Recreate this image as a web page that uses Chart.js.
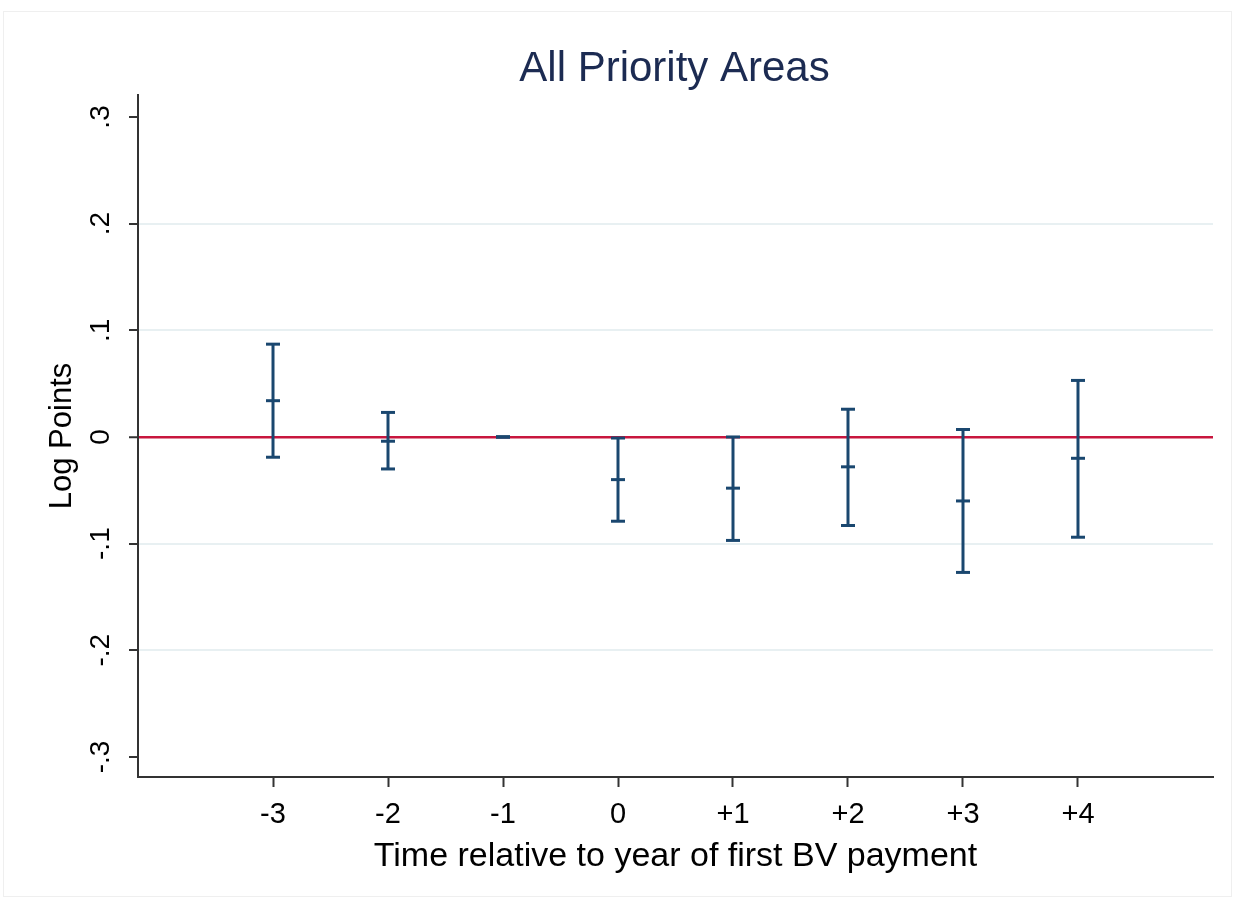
<!DOCTYPE html>
<html>
<head>
<meta charset="utf-8">
<title>All Priority Areas</title>
<script src="https://cdn.jsdelivr.net/npm/chart.js@4.4.1/dist/chart.umd.min.js"></script>
<style>
  html, body { margin: 0; padding: 0; background: #ffffff; }
  canvas { display: block; }
</style>
</head>
<body>
<canvas id="chart" width="1235" height="905"></canvas>
<script>
// Event-study coefficients (log points) with 95% confidence bounds
const periods      = [-3, -2, -1, 0, 1, 2, 3, 4];
const periodLabels = ['-3', '-2', '-1', '0', '+1', '+2', '+3', '+4'];
const estimates    = [0.034, -0.004, 0, -0.040, -0.048, -0.028, -0.060, -0.020];
const ciLower      = [-0.019, -0.030, 0, -0.079, -0.097, -0.083, -0.127, -0.094];
const ciUpper      = [0.087, 0.023, 0, -0.001, 0.000, 0.026, 0.007, 0.053];
const yTicks       = [-0.3, -0.2, -0.1, 0, 0.1, 0.2, 0.3];
const yTickLabels  = ['-.3', '-.2', '-.1', '0', '.1', '.2', '.3'];

const NAVY = '#1a476f';
const FONT = '"Liberation Sans", Arial, Helvetica, sans-serif';

// One vertical segment per period, with caps drawn as line-style points
const ciSets = periods.map((p, i) => ({
  type: 'line',
  data: [{ x: p, y: ciLower[i] }, { x: p, y: ciUpper[i] }],
  borderColor: NAVY,
  borderWidth: 3,
  pointStyle: 'line',
  pointRadius: 7,
  pointBorderWidth: 3,
  pointBorderColor: NAVY,
  pointHoverRadius: 7,
  fill: false,
  order: 1
}));

const pointSet = {
  type: 'scatter',
  data: periods.map((p, i) => ({ x: p, y: estimates[i] })),
  pointStyle: 'line',
  pointRadius: 7,
  pointBorderWidth: 3,
  borderColor: NAVY,
  pointBorderColor: NAVY,
  order: 0
};

// Text labels drawn around the plot region
const textPlugin = {
  id: 'textPlugin',
  beforeDraw(chart) {
    const ctx = chart.ctx;
    ctx.save();
    ctx.strokeStyle = '#efefef';
    ctx.lineWidth = 1;
    ctx.strokeRect(3.5, 11.5, 1228, 885);
    ctx.restore();
  },
  afterDraw(chart) {
    const ctx = chart.ctx;
    const area = chart.chartArea;
    const ys = chart.scales.y;
    const cx = (area.left + area.right) / 2;
    ctx.save();

    // title
    ctx.fillStyle = '#1c2b52';
    ctx.font = '42px ' + FONT;
    ctx.textAlign = 'center';
    ctx.textBaseline = 'middle';
    ctx.fillText('All Priority Areas', cx - 1, 69);

    // vertical y tick labels
    ctx.fillStyle = '#000000';
    ctx.font = '28px ' + FONT;
    yTicks.forEach((v, i) => {
      const py = ys.getPixelForValue(v);
      ctx.save();
      ctx.translate(101, py);
      ctx.rotate(-Math.PI / 2);
      ctx.textAlign = 'center';
      ctx.textBaseline = 'middle';
      ctx.fillText(yTickLabels[i], 0, 0);
      ctx.restore();
    });

    // y axis title
    ctx.save();
    ctx.font = '31px ' + FONT;
    ctx.translate(62, (area.top + area.bottom) / 2);
    ctx.rotate(-Math.PI / 2);
    ctx.textAlign = 'center';
    ctx.textBaseline = 'middle';
    ctx.fillText('Log Points', 0, 0);
    ctx.restore();

    // x axis title
    ctx.font = '34px ' + FONT;
    ctx.textAlign = 'center';
    ctx.textBaseline = 'middle';
    ctx.fillText('Time relative to year of first BV payment', cx, 857);

    ctx.restore();
  }
};

new Chart(document.getElementById('chart'), {
  data: { datasets: [pointSet, ...ciSets] },
  plugins: [textPlugin],
  options: {
    responsive: false,
    animation: false,
    layout: { padding: { top: 95, right: 22, left: 0, bottom: 0 } },
    plugins: {
      legend: { display: false },
      tooltip: { enabled: false },
      title: { display: false }
    },
    scales: {
      x: {
        type: 'linear',
        min: -4.174,
        max: 5.174,
        afterFit(scale) { scale.height = 128; },
        afterBuildTicks(scale) { scale.ticks = periods.map(v => ({ value: v })); },
        ticks: {
          color: '#000000',
          font: { family: FONT, size: 29 },
          padding: 11,
          autoSkip: false,
          maxRotation: 0,
          callback: (v) => {
            const i = periods.indexOf(v);
            return i >= 0 ? periodLabels[i] : '';
          }
        },
        grid: {
          drawOnChartArea: false,
          drawTicks: true,
          tickLength: 10,
          tickColor: '#333333',
          tickWidth: 2
        },
        border: { color: '#333333', width: 2 }
      },
      y: {
        type: 'linear',
        min: -0.3188,
        max: 0.3206,
        afterFit(scale) { scale.width = 138; },
        afterBuildTicks(scale) { scale.ticks = yTicks.map(v => ({ value: v })); },
        ticks: { display: false },
        grid: {
          drawTicks: true,
          tickLength: 9,
          tickColor: '#333333',
          tickWidth: 2,
          color: (c) => {
            const v = c.tick ? Math.round(c.tick.value * 10) / 10 : null;
            if (v === 0) return '#c8163e';
            if (v === 0.3 || v === -0.3) return 'rgba(0,0,0,0)';
            return '#e8f0f2';
          },
          lineWidth: (c) => (c.tick && Math.abs(c.tick.value) < 1e-9 ? 2.5 : 2)
        },
        border: { color: '#333333', width: 2 }
      }
    }
  }
});
</script>
</body>
</html>
